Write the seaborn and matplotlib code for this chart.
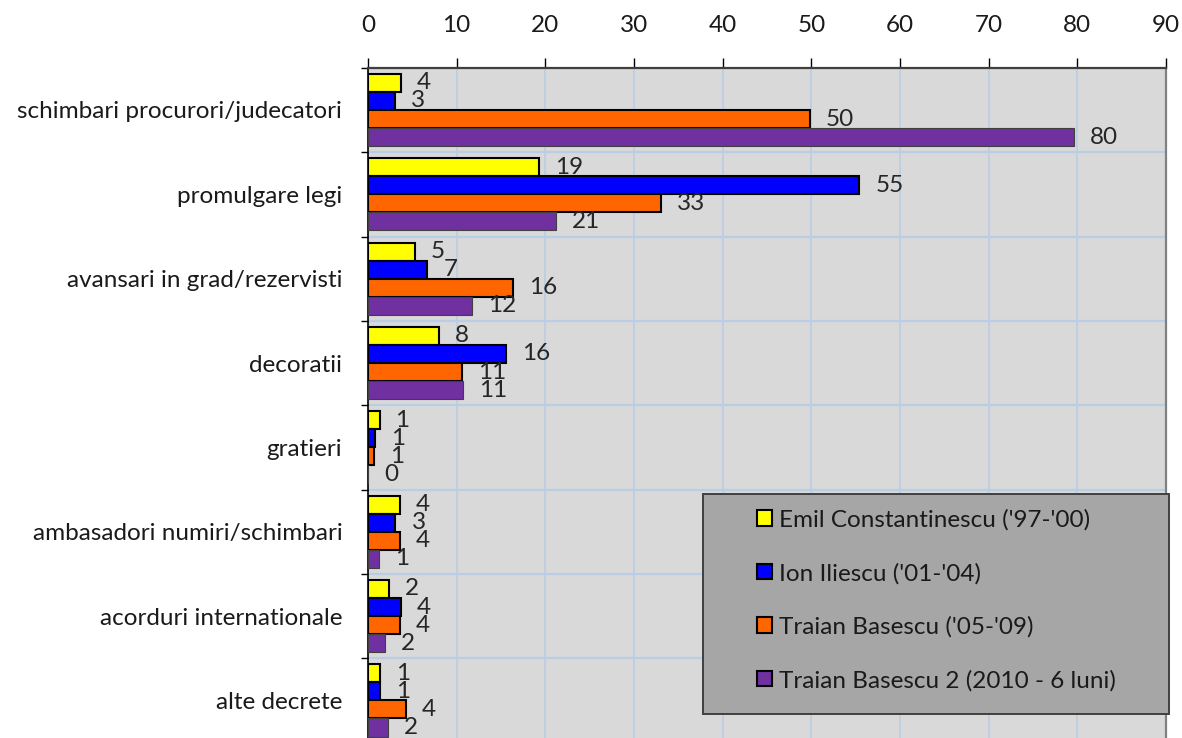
import numpy as np
import pandas as pd
import matplotlib
matplotlib.use("Agg")
import matplotlib.pyplot as plt
from matplotlib.patches import Rectangle
from matplotlib.ticker import MultipleLocator, FixedLocator
import seaborn as sns

# ---- data ----
categories = [
    "schimbari procurori/judecatori", "promulgare legi",
    "avansari in grad/rezervisti", "decoratii", "gratieri",
    "ambasadori numiri/schimbari", "acorduri internationale", "alte decrete",
]
presidents = [
    "Emil Constantinescu ('97-'00)", "Ion Iliescu ('01-'04)",
    "Traian Basescu ('05-'09)", "Traian Basescu 2 (2010 - 6 luni)",
]
constantinescu = [3.7, 19.3, 5.3, 8.0, 1.3, 3.6, 2.4, 1.4]
iliescu        = [3.0, 55.4, 6.7, 15.6, 0.8, 3.1, 3.7, 1.4]
basescu        = [49.8, 33.0, 16.4, 10.6, 0.7, 3.6, 3.6, 4.3]
basescu2       = [79.6, 21.2, 11.7, 10.7, 0.0, 1.2, 1.9, 2.2]
colors = ["#FFFF00", "#0000FF", "#FF6600", "#7030A0"]

df = pd.DataFrame({
    "categorie": categories * 4,
    "presedinte": np.repeat(presidents, len(categories)),
    "valoare": constantinescu + iliescu + basescu + basescu2,
})

FS = 17.5

# ---- figure ----
sns.set_style("white")
plt.rcParams["font.family"] = ["Lato", "DejaVu Sans"]
fig = plt.figure(figsize=(11.82, 7.38), dpi=100)
ax = fig.add_axes([368 / 1182, -0.0062, 798 / 1182, 0.9143])
ax.set_facecolor("#D9D9D9")

sns.barplot(data=df, y="categorie", x="valoare", hue="presedinte",
            order=categories, hue_order=presidents, palette=colors,
            orient="h", width=0.857, saturation=1, edgecolor="black",
            linewidth=1.5, ax=ax, zorder=3)

for cont, col in zip(ax.containers, colors):
    if col == "#7030A0":
        for p in cont.patches:
            p.set_edgecolor("#404040")
            p.set_linewidth(0.8)
    ax.bar_label(cont, fmt="%.0f", padding=11.5, fontsize=FS,
                 color="#262626", zorder=4)

# ---- axes styling ----
ax.set_xlim(0, 90)
ax.set_ylim(len(categories) - 0.5, -0.5)
ax.xaxis.tick_top()
ax.xaxis.set_major_locator(MultipleLocator(10))
ax.tick_params(axis="x", which="major", direction="out", length=7, width=1,
               color="black", pad=16, labelsize=FS, labelcolor="#1a1a1a")
ax.yaxis.set_minor_locator(FixedLocator(np.arange(-0.5, len(categories), 1)))
ax.tick_params(axis="y", which="major", length=0, pad=18.5, labelsize=FS,
               labelcolor="#1a1a1a")
ax.tick_params(axis="y", which="minor", direction="out", length=5, width=1,
               color="black", left=True)
ax.set_xlabel("")
ax.set_ylabel("")

ax.grid(True, axis="x", which="major", color="#B9CDE5", lw=1.2, zorder=0)
ax.grid(True, axis="y", which="minor", color="#B9CDE5", lw=1.6, zorder=0)
ax.grid(False, axis="y", which="major")
ax.set_axisbelow(True)

ax.spines["bottom"].set_visible(False)
ax.spines["top"].set_color("#404040")
ax.spines["top"].set_linewidth(1.6)
ax.spines["left"].set_color("black")
ax.spines["left"].set_linewidth(1.2)
ax.spines["right"].set_color("#808080")
ax.spines["right"].set_linewidth(1.6)

# ---- legend ----
handles, labels = ax.get_legend_handles_labels()
if ax.get_legend() is not None:
    ax.get_legend().remove()
box = Rectangle((703 / 1182, (738 - 714) / 738), 466 / 1182, 220 / 738,
                transform=fig.transFigure, facecolor="#A6A6A6",
                edgecolor="#404040", lw=1.4, zorder=5)
fig.patches.append(box)
leg = fig.legend(handles, labels, loc="upper left",
                 bbox_to_anchor=(757 / 1182, (738 - 509) / 738),
                 frameon=False, fontsize=FS, borderpad=0, borderaxespad=0,
                 handlelength=0.6, handleheight=0.6, handletextpad=0.3,
                 labelspacing=1.32, labelcolor="#1a1a1a")
leg.set_zorder(6)

fig.savefig("out.png", dpi=100)
